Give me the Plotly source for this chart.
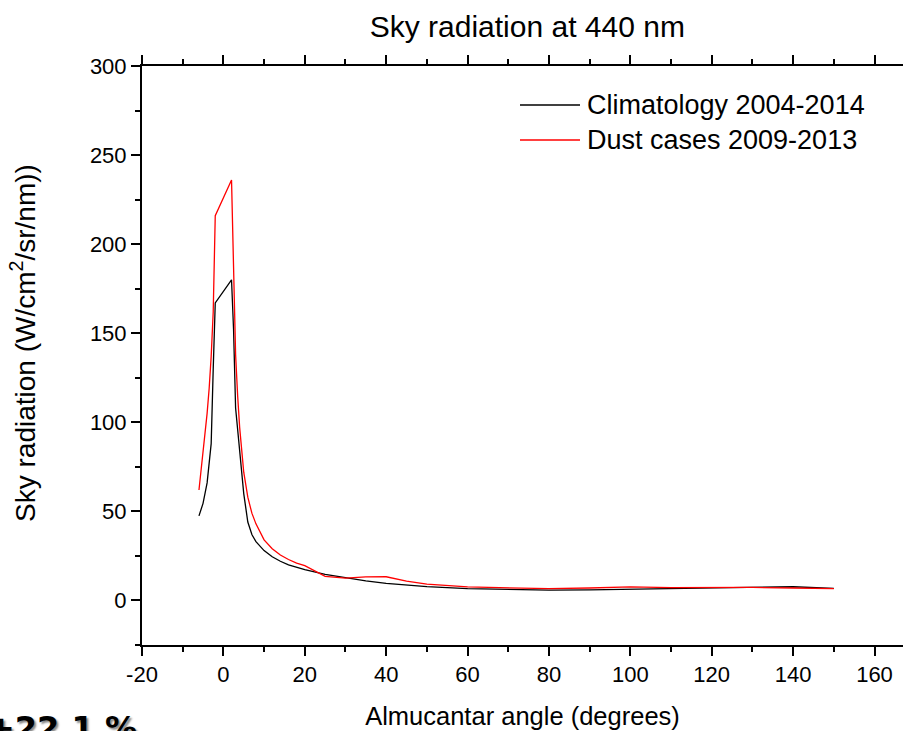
import plotly.graph_objects as go

angles = [-6, -5, -4, -3.5, -3, -2.5, -2, 2, 2.5, 3, 3.5, 4, 5, 6, 7, 8, 10, 12, 14, 16, 18, 20,
          25, 30, 35, 40, 45, 50, 60, 70, 80, 90, 100, 110, 120, 130, 140, 150]
climatology = [47.5, 54.5, 66, 76, 88, 130, 167, 180, 152, 108, 97, 86, 60, 44, 37, 33, 28, 24.5, 22, 20, 18.5, 17.3,
               14.6, 12.6, 11, 9.6, 8.6, 7.8, 6.6, 6.0, 5.8, 5.9, 6.3, 6.8, 7.3, 7.6, 7.7, 6.8]
dust = [62, 82, 105, 119, 137, 162, 216, 236, 185, 138, 115, 97, 72, 58, 49, 43, 34, 29, 25.5, 23, 21, 19.5,
        13.5, 12.5, 13.2, 13.3, 10.8, 9.2, 7.6, 7.0, 6.6, 7.0, 7.6, 7.2, 7.4, 7.3, 7.0, 6.7]

series_names = ["Climatology 2004-2014", "Dust cases 2009-2013"]
series_colors = ["black", "#ff0000"]
x_tickvals = [-20, 0, 20, 40, 60, 80, 100, 120, 140, 160]
x_ticktext = ["-20", "0", "20", "40", "60", "80", "100", "120", "140", "160"]
y_tickvals = [0, 50, 100, 150, 200, 250, 300]
y_ticktext = ["0", "50", "100", "150", "200", "250", "300"]
title_text = "Sky radiation at 440 nm"
x_title = "Almucantar angle (degrees)"
y_title = "Sky radiation (W/cm<sup>2</sup>/sr/nm))"
note_text = "+22.1 %"

FONT = "Liberation Sans, Arial, sans-serif"

fig = go.Figure()
for name, vals, col in zip(series_names, [climatology, dust], series_colors):
    fig.add_trace(go.Scatter(x=angles, y=vals, mode="lines", name=name,
                             line=dict(color=col, width=1.3), showlegend=False))
# invisible trace to instantiate the top axis
fig.add_trace(go.Scatter(x=angles, y=climatology, xaxis="x2", mode="lines",
                         line=dict(width=0, color="rgba(0,0,0,0)"), showlegend=False, hoverinfo="skip"))

xr = [-20, 167]
yr = [-25, 300]

# custom legend (line sample + label), in paper coordinates
legend_rows_y = [0.9326, 0.8722]
shapes = []
annotations = []
for name, col, yy in zip(series_names, series_colors, legend_rows_y):
    shapes.append(dict(type="line", xref="paper", yref="paper", x0=0.4967, x1=0.5756, y0=yy, y1=yy,
                       line=dict(color=col, width=1.3)))
    annotations.append(dict(text=name, xref="paper", yref="paper", x=0.5815, y=yy,
                            xanchor="left", yanchor="middle", showarrow=False,
                            font=dict(size=27, family=FONT, color="black")))

# y-axis title placed as a rotated annotation
annotations.append(dict(text=y_title, xref="paper", yref="paper", x=-0.1564, y=0.5216,
                        xanchor="center", yanchor="middle", textangle=-90, showarrow=False,
                        font=dict(size=28, family=FONT, color="black")))

annotations.append(dict(text="<b>" + note_text + "</b>", xref="paper", yref="paper",
                        x=-0.205, y=-0.143, xanchor="left", yanchor="middle", showarrow=False,
                        font=dict(family="DejaVu Sans", size=32, color="black",
                                  shadow="2px 2px 2px #888888")))

minor_common = dict(ticks="outside", ticklen=5, tickwidth=2, tickcolor="black")

fig.update_layout(
    width=904, height=731,
    margin=dict(l=142, r=1, t=66, b=86),
    paper_bgcolor="white", plot_bgcolor="white",
    font=dict(family=FONT, color="black", size=22),
    title=dict(text=title_text, x=0.5833, xanchor="center", y=0.964, yanchor="middle",
               font=dict(size=30, family=FONT)),
    showlegend=False,
    xaxis=dict(range=xr, showgrid=False, zeroline=False, showline=True, linecolor="black", linewidth=2,
               ticks="outside", ticklen=9, tickwidth=2, tickcolor="black",
               tickvals=x_tickvals, ticktext=x_ticktext,
               minor=dict(dtick=10, tick0=0, **minor_common),
               tickfont=dict(size=22), title=dict(text=x_title, font=dict(size=25.5), standoff=21)),
    xaxis2=dict(range=xr, overlaying="x", side="top", anchor="y", showgrid=False, zeroline=False,
                showline=True, linecolor="black", linewidth=2, showticklabels=False,
                ticks="outside", ticklen=9, tickwidth=2, tickcolor="black", tickvals=x_tickvals,
                minor=dict(dtick=10, tick0=0, **minor_common)),
    yaxis=dict(range=yr, showgrid=False, zeroline=False, showline=True, linecolor="black", linewidth=2,
               ticks="outside", ticklen=9, tickwidth=2, tickcolor="black",
               tickvals=y_tickvals, ticktext=y_ticktext,
               minor=dict(dtick=25, tick0=0, **minor_common),
               tickfont=dict(size=22)),
    shapes=shapes,
    annotations=annotations,
)

fig.write_html("out.html")
